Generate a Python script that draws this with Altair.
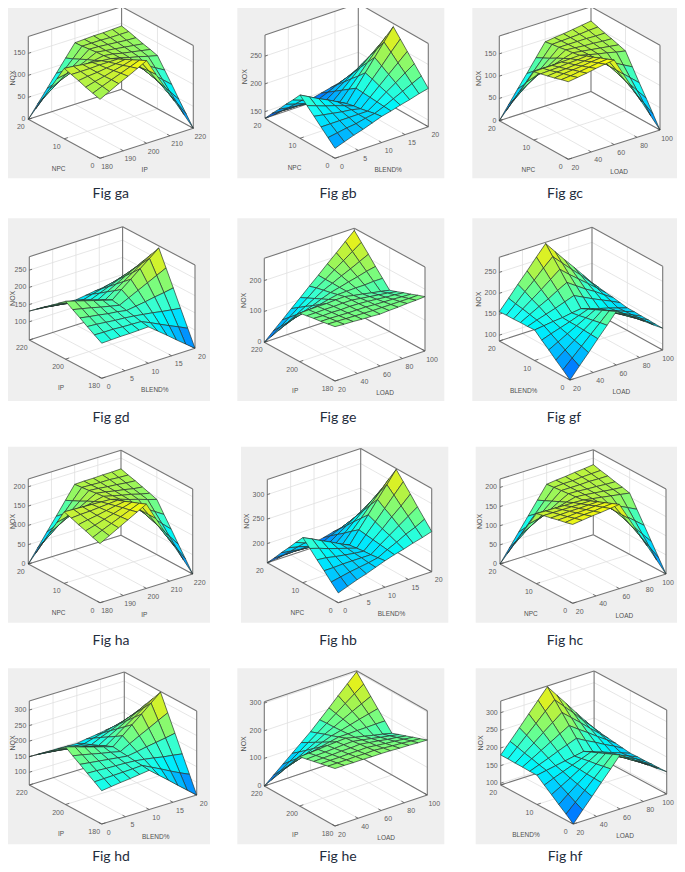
import altair as alt
import pandas as pd

# NOX surfaces: rows run along the second axis (front to left), columns along the first (front to right)
ga_z = [
[134,145,156,166,177,188,150,113,75,38,0],
[139,148,156,164,172,180,149,118,87,56,24],
[144,150,155,161,166,172,147,123,98,73,48],
[150,153,155,158,161,164,146,127,109,91,73],
[155,155,155,156,156,156,144,132,121,109,97],
[160,158,155,153,150,148,143,137,132,126,121],
[128,132,135,139,142,146,143,138,134,130,126],
[96,106,115,125,135,145,142,139,136,133,130],
[64,80,96,112,127,143,142,140,138,136,135],
[32,54,76,98,119,141,141,141,140,140,140],
[0,28,56,84,112,140,141,142,142,143,144]]
gb_z = [
[156,162,168,173,179,185,189,194,198,203,207],
[168,171,174,176,180,183,190,198,206,214,222],
[180,180,180,180,180,180,191,203,214,226,237],
[192,189,186,183,181,177,192,207,222,237,252],
[204,198,192,187,181,175,193,212,230,249,267],
[216,207,198,190,181,172,194,216,238,260,282],
[200,194,187,180,174,167,185,203,222,240,258],
[185,180,175,171,166,161,176,191,206,221,235],
[169,166,164,161,159,156,167,178,189,201,211],
[154,153,152,152,151,151,158,166,173,181,188],
[138,139,141,142,144,145,149,153,157,161,165]]
gc_z = [
[174,177,180,184,187,190,152,114,76,38,0],
[170,172,175,178,181,183,152,121,89,58,27],
[165,168,170,172,175,177,152,127,103,78,54],
[161,163,164,166,168,170,152,134,116,98,80],
[157,158,159,161,162,164,152,141,129,118,107],
[153,154,154,155,156,157,152,147,143,138,134],
[122,129,135,141,148,154,151,148,145,142,139],
[92,104,116,127,140,152,150,148,147,145,144],
[61,79,96,114,131,149,149,149,149,148,148],
[31,54,77,100,123,147,148,149,150,152,153],
[0,29,58,86,115,144,147,149,152,155,158]]
gd_z = [
[149,150,151,151,152,153,132,111,89,68,47],
[162,161,161,159,158,157,145,132,119,107,94],
[175,173,170,167,165,162,158,154,149,145,141],
[189,184,180,175,172,167,171,175,180,184,189],
[202,196,190,183,177,171,184,197,210,223,236],
[215,207,199,191,183,175,197,218,240,261,283],
[198,191,185,178,171,164,182,200,218,236,254],
[181,176,170,164,159,153,168,182,197,211,226],
[165,160,156,151,147,142,153,164,175,186,197],
[148,145,141,138,134,131,139,146,153,161,168],
[131,129,127,124,122,120,124,128,131,135,139]]
ge_z = [
[176,174,173,171,170,168,170,171,173,174,176],
[172,171,170,169,168,167,167,167,167,167,168],
[168,168,167,166,166,166,164,163,162,160,159],
[165,164,165,164,165,164,162,159,156,154,151],
[161,161,162,162,163,163,159,155,151,147,142],
[157,158,159,159,161,162,156,151,145,140,134],
[126,132,138,143,150,156,157,158,158,160,160],
[94,106,117,127,139,150,157,165,172,180,186],
[63,79,95,112,128,145,158,172,185,199,213],
[31,53,74,96,117,140,158,179,199,219,239],
[0,27,53,80,106,133,159,186,212,239,265]]
gf_z = [
[86,112,137,163,188,214,199,184,169,153,138],
[101,122,143,164,185,206,193,179,166,152,138],
[115,132,148,165,181,198,186,174,163,151,139],
[130,142,154,166,178,190,180,170,160,149,139],
[144,152,159,166,174,182,173,165,157,148,140],
[159,162,165,167,171,174,167,160,154,147,140],
[158,166,173,180,188,196,185,174,164,154,143],
[158,170,182,193,206,218,203,188,175,160,146],
[157,174,190,206,223,240,221,203,185,167,148],
[157,177,199,219,241,261,239,217,196,173,151],
[156,181,207,232,258,283,257,231,206,180,154]]
ha_z = [
[153,166,179,192,205,218,174,131,87,44,0],
[159,170,180,190,200,210,174,138,101,65,29],
[166,173,181,188,196,203,174,145,115,86,57],
[172,177,181,186,191,195,174,151,130,108,86],
[179,181,182,184,186,188,173,158,144,129,114],
[185,184,183,182,181,180,173,165,158,150,143],
[148,154,160,166,172,178,172,166,161,154,149],
[111,124,137,150,163,176,172,167,163,158,155],
[74,94,114,133,153,173,171,168,166,163,161],
[37,64,91,117,144,171,170,169,169,167,166],
[0,34,68,101,135,169,170,170,171,171,172]]
hb_z = [
[181,188,195,201,208,215,221,226,232,237,243],
[195,199,203,206,209,213,223,232,242,250,260],
[210,210,211,211,211,211,225,238,251,264,277],
[224,222,218,215,212,210,227,243,261,277,295],
[239,233,226,220,214,208,229,249,270,291,312],
[253,244,234,225,215,206,231,255,280,304,329],
[235,228,220,213,205,199,220,240,261,281,302],
[216,212,206,201,196,192,208,225,241,258,274],
[198,195,192,190,187,184,197,209,222,234,247],
[179,179,179,178,177,177,186,194,202,211,220],
[161,163,165,166,168,170,174,179,183,188,192]]
hc_z = [
[206,209,212,214,217,220,176,132,88,44,0],
[201,204,206,207,210,212,176,140,104,68,32],
[197,198,200,201,203,204,176,148,120,92,64],
[192,193,194,194,195,196,176,156,136,116,96],
[188,188,188,188,188,188,176,164,152,140,128],
[183,182,182,181,181,180,176,172,168,164,160],
[146,152,159,165,172,178,176,173,170,167,165],
[110,123,136,149,163,176,175,173,172,170,169],
[73,93,114,134,154,174,174,174,175,174,174],
[37,64,91,118,145,172,174,174,176,177,178],
[0,34,68,102,136,170,173,175,178,180,183]]
hd_z = [
[166,170,174,177,181,185,160,135,109,84,59],
[182,183,184,185,186,188,173,158,142,127,113],
[197,196,194,193,192,190,186,181,175,171,166],
[213,209,205,201,197,193,198,204,209,214,220],
[228,222,215,208,202,195,211,227,242,258,273],
[244,235,225,216,207,198,224,250,275,301,327],
[225,218,210,203,195,188,209,231,252,273,295],
[206,201,194,189,183,177,195,212,229,246,264],
[188,183,179,175,171,167,181,193,206,219,232],
[169,166,163,162,159,157,166,174,183,191,201],
[150,149,148,148,147,146,151,155,160,164,169]]
he_z = [
[208,208,207,207,206,206,205,203,202,200,199],
[202,202,202,203,202,203,200,197,195,192,189],
[196,197,197,198,198,199,195,191,188,184,180],
[190,191,192,194,194,196,191,186,180,176,170],
[184,186,187,189,191,192,186,180,173,167,161],
[178,180,182,185,187,189,181,174,166,159,151],
[142,150,157,165,172,179,179,180,180,181,181],
[107,119,132,145,157,169,177,186,195,203,211],
[71,89,106,124,142,160,175,192,209,225,241],
[36,58,81,104,127,150,174,198,223,247,271],
[0,28,56,84,112,140,172,204,237,269,301]]
hf_z = [
[95,126,156,187,217,248,230,212,194,176,158],
[112,137,162,188,213,239,223,206,190,174,157],
[128,149,169,189,209,230,215,201,186,172,157],
[145,160,175,191,206,221,208,195,182,170,156],
[161,172,182,192,202,212,200,190,178,167,156],
[178,183,188,193,198,203,193,184,174,165,155],
[178,188,198,209,219,229,214,201,186,173,158],
[179,194,209,224,239,254,235,217,198,180,161],
[179,199,219,240,260,280,257,234,210,187,164],
[180,205,230,255,281,305,278,251,222,195,167],
[180,210,240,271,301,331,299,267,234,202,170]]

ip_ticks = [180, 190, 200, 210, 220]
ip_short = [180, 200, 220]
npc_ticks = [0, 10, 20]
blend_ticks = [0, 5, 10, 15, 20]
blend_short = [0, 10, 20]
load_ticks = [20, 40, 60, 80, 100]

z_a = [0, 50, 100, 150]
z_b = [150, 200, 250]
z_d = [100, 150, 200, 250]
z_e = [0, 100, 200]
z_ha = [0, 50, 100, 150, 200]
z_hb = [200, 250, 300]
z_hd = [100, 150, 200, 250, 300]
z_he = [0, 100, 200, 300]

# name, grid, first axis, second axis, z ticks, z limits
PANELS = [
 ("Fig ga", ga_z, "IP", ip_ticks, "NPC", npc_ticks, z_a, (0, 188)),
 ("Fig gb", gb_z, "BLEND%", blend_ticks, "NPC", npc_ticks, z_b, (138, 288)),
 ("Fig gc", gc_z, "LOAD", load_ticks, "NPC", npc_ticks, z_a, (0, 190)),
 ("Fig gd", gd_z, "BLEND%", blend_ticks, "IP", ip_short, z_d, (47, 289)),
 ("Fig ge", ge_z, "LOAD", load_ticks, "IP", ip_short, z_e, (0, 272)),
 ("Fig gf", gf_z, "LOAD", load_ticks, "BLEND%", blend_short, z_d, (86, 286)),
 ("Fig ha", ha_z, "IP", ip_ticks, "NPC", npc_ticks, z_ha, (0, 220)),
 ("Fig hb", hb_z, "BLEND%", blend_ticks, "NPC", npc_ticks, z_hb, (161, 331)),
 ("Fig hc", hc_z, "LOAD", load_ticks, "NPC", npc_ticks, z_ha, (0, 222)),
 ("Fig hd", hd_z, "BLEND%", blend_ticks, "IP", ip_short, z_hd, (59, 329)),
 ("Fig he", he_z, "LOAD", load_ticks, "IP", ip_short, z_he, (0, 305)),
 ("Fig hf", hf_z, "LOAD", load_ticks, "BLEND%", blend_short, z_hd, (95, 333)),
]
# page geometry of each panel: floor left, floor front, floor right, box height, grey card, caption
LAYOUT = [
 ((28.3,119.3),(100,158.3),(193.3,128.3),82.7,(3.3,3.3,210,178.3),(110.7,194)),
 ((265,118.3),(335,158.3),(428.3,126.7),83.3,(237.3,3.3,444.3,178.3),(338,194)),
 ((499.3,120.7),(568.3,159.3),(660,130),84.7,(472.3,3.3,680,178.3),(565,194)),
 ((29.3,340),(101.7,378.3),(195,348.3),83.3,(3.3,218.3,210,401),(111,418)),
 ((264.3,342.3),(335,381),(425,351),84,(237.3,218.3,444.3,401),(338,418)),
 ((499.3,341),(570,380),(662.7,350),83.7,(472.3,218.3,680,401),(564,418)),
 ((28.3,564),(100,602.7),(192.7,574),85,(3.3,446.7,210,622.7),(111,641)),
 ((267.3,562.7),(338.3,602.7),(431.7,571.7),83.3,(241,446.7,448.3,622.7),(338,641)),
 ((500,564),(572.7,603.3),(666,574),85,(475.7,446.7,682.7,622.7),(565,641)),
 ((29.3,785),(101.7,824),(196.7,795),84,(3.3,668.3,210,844.3),(111,857)),
 ((264.3,786),(335,826),(427.3,795),84.3,(237.3,668.3,444.3,844.3),(338,857)),
 ((500.7,785),(573.3,824),(666.7,794),84,(475.7,668.3,682.7,844.3),(565,857)),
]
U_LABEL_OFF = {"IP": (-2, 27), "BLEND%": (6.5, 27), "LOAD": (5, 27)}
V_LABEL_OFF = {"NPC": (-5.5, 30), "IP": (-4.5, 29), "BLEND%": (-11, 30)}

cm_dom = [0, .1, .25, .4, .5, .6, .75, .9, 1]
cm_rng = ["#0040ff", "#0080ff", "#00c8ff", "#18fbf5", "#38ffd0", "#68ff90", "#a4f450", "#e0f020", "#ffff00"]

quads, cards, walls, grid, box, ticks = [], [], [], [], [], []
tick_lbl, z_lbl, ax_lbl, nox_lbl, caps = [], [], [], [], []


def poly(pts):
    return {"type": "Polygon", "coordinates": [[list(p) for p in pts] + [list(pts[0])]]}


for (name, zg, un, ut, vn, vt, zt, zl), (L, F, R, H, card, cap) in zip(PANELS, LAYOUT):
    def P(u, v, z):
        return (F[0] + u * (R[0] - F[0]) + v * (L[0] - F[0]),
                F[1] + u * (R[1] - F[1]) + v * (L[1] - F[1]) - H * (z - zl[0]) / (zl[1] - zl[0]))

    def seg(lst, a, b):
        lst.append({"x": a[0], "y": a[1], "x2": b[0], "y2": b[1]})

    zb, zt_ = zl
    x0, y0, x1, y1 = card
    cards.append({"type": "Feature", "properties": {},
                  "geometry": poly([(x0, y0), (x1, y0), (x1, y1), (x0, y1)])})
    walls.append({"type": "Feature", "properties": {},
                  "geometry": poly([P(0, 1, zb), P(0, 0, zb), P(1, 0, zb), P(1, 0, zt_), P(1, 1, zt_), P(0, 1, zt_)])})
    un_ = [(t - ut[0]) / (ut[-1] - ut[0]) for t in ut]
    vn_ = [(t - vt[0]) / (vt[-1] - vt[0]) for t in vt]
    for u, t in zip(un_, ut):
        if 0 < u < 1:
            seg(grid, P(u, 0, zb), P(u, 1, zb))
            seg(grid, P(u, 1, zb), P(u, 1, zt_))
        seg(ticks, P(u, 0, zb), P(u, 0.04, zb))
        a = P(u, 0, zb)
        tick_lbl.append({"x": min(a[0] + 7, 668), "y": a[1] + 8.5, "t": str(t)})
    for v, t in zip(vn_, vt):
        if 0 < v < 1:
            seg(grid, P(0, v, zb), P(1, v, zb))
            seg(grid, P(1, v, zb), P(1, v, zt_))
        seg(ticks, P(0, v, zb), P(0.04, v, zb))
        a = P(0, v, zb)
        tick_lbl.append({"x": a[0] - 7.5, "y": a[1] + 8, "t": str(t)})
    for t in zt:
        seg(grid, P(0, 1, t), P(1, 1, t))
        seg(grid, P(1, 1, t), P(1, 0, t))
        seg(ticks, P(0, 1, t), P(0.03, 1, t))
        a = P(0, 1, t)
        z_lbl.append({"x": a[0] - 3, "y": a[1], "t": str(t)})
    for a, b in [((0, 1, zb), (0, 0, zb)), ((0, 0, zb), (1, 0, zb)),
                 ((0, 1, zb), (1, 1, zb)), ((1, 1, zb), (1, 0, zb)),
                 ((0, 1, zb), (0, 1, zt_)), ((1, 0, zb), (1, 0, zt_)),
                 ((1, 1, zb), (1, 1, zt_)), ((0, 1, zt_), (1, 1, zt_)),
                 ((1, 1, zt_), (1, 0, zt_))]:
        seg(box, P(*a), P(*b))
    n = len(zg) - 1
    zmin = min(min(r) for r in zg)
    zmax = max(max(r) for r in zg)
    cells = sorted(((i, j) for i in range(n) for j in range(n)), key=lambda c: -(c[0] + c[1]))
    for i, j in cells:
        cz = [zg[i][j], zg[i][j + 1], zg[i + 1][j + 1], zg[i + 1][j]]
        pts = [P(j / n, i / n, cz[0]), P((j + 1) / n, i / n, cz[1]),
               P((j + 1) / n, (i + 1) / n, cz[2]), P(j / n, (i + 1) / n, cz[3])]
        quads.append({"type": "Feature",
                      "properties": {"t": (sum(cz) / 4 - zmin) / (zmax - zmin)},
                      "geometry": poly(pts)})
    m = P(.5, 0, zb)
    ax_lbl.append({"x": m[0] + U_LABEL_OFF[un][0], "y": m[1] + U_LABEL_OFF[un][1], "t": un})
    m = P(0, .5, zb)
    ax_lbl.append({"x": m[0] + V_LABEL_OFF[vn][0], "y": m[1] + V_LABEL_OFF[vn][1], "t": vn})
    nox_lbl.append({"x": max(L[0] - 20, 12.5), "y": L[1] - H / 2, "t": "NOX"})
    caps.append({"x": cap[0], "y": cap[1], "t": name})

W, HT = 669, 856
X = alt.X("x:Q", scale=alt.Scale(domain=[8, 677], range=[0, W], zero=False, nice=False), axis=None)
Y = alt.Y("y:Q", scale=alt.Scale(domain=[8, 864], range=[0, HT], zero=False, nice=False), axis=None)
PROJ = dict(type="identity", scale=1, translate=[-8, -8])


def rules(rows, color, w):
    return alt.Chart(pd.DataFrame(rows)).mark_rule(color=color, strokeWidth=w).encode(
        x=X, y=Y, x2="x2:Q", y2="y2:Q")


def texts(rows, **kw):
    return alt.Chart(pd.DataFrame(rows)).mark_text(**kw).encode(x=X, y=Y, text="t:N")


def shapes(rows, fill):
    return alt.Chart(alt.Data(values=rows)).mark_geoshape(fill=fill, strokeWidth=0).project(**PROJ)


surf_layer = alt.Chart(alt.Data(values=quads)).mark_geoshape(
    stroke="#26322c", strokeWidth=0.8, strokeOpacity=0.85).encode(
    fill=alt.Fill("properties.t:Q", legend=None,
                  scale=alt.Scale(domain=cm_dom, range=cm_rng))).project(**PROJ)

sans = "Liberation Sans"
chart = alt.layer(
    shapes(cards, "#efefef"),
    shapes(walls, "#ffffff"),
    rules(grid, "#e0e0e0", 0.8),
    rules(box, "#767676", 1.1),
    rules(ticks, "#555555", 0.8),
    surf_layer,
    texts(tick_lbl, font=sans, fontSize=7, color="#606060", align="center", baseline="middle"),
    texts(z_lbl, font=sans, fontSize=7, color="#606060", align="right", baseline="middle"),
    texts(ax_lbl, font=sans, fontSize=6.5, color="#505050", align="center", baseline="middle"),
    texts(nox_lbl, font=sans, fontSize=7, color="#505050", align="center", baseline="middle", angle=270),
    texts(caps, font="Lato", fontSize=14, color="#1f2d3d", align="center", baseline="middle"),
).properties(width=W, height=HT, padding=0,
             autosize=alt.AutoSizeParams(type="none")).configure_view(stroke=None)

chart.save("out.html", embed_options={"renderer": "svg", "actions": False})
